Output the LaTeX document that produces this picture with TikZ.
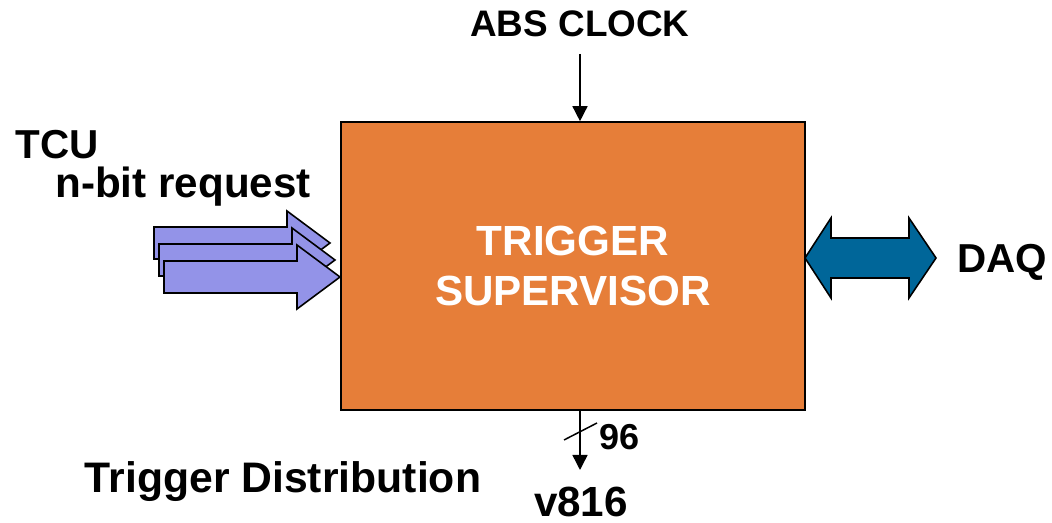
\documentclass[tikz,border=0pt]{standalone}
\usepackage{fontspec}
\setmainfont{Liberation Sans}
\usepackage{tikz}
\usetikzlibrary{arrows.meta, positioning, calc}
\definecolor{tsorange}{RGB}{230,126,57}
\definecolor{daqblue}{RGB}{0,102,153}
\definecolor{reqblue}{RGB}{147,147,232}
\tikzset{
  svbox/.style={rectangle, draw=black, fill=tsorange, line width=0.9pt,
    minimum width=9.28cm, minimum height=5.76cm, align=center,
    text=white, font=\fontsize{24}{29}\selectfont\bfseries},
  lbl/.style={font=\fontsize{24}{28}\selectfont\bfseries, inner sep=0pt},
  smalllbl/.style={font=\fontsize{21}{25}\selectfont\bfseries, inner sep=0pt},
  sigarrow/.style={-{Triangle[length=0.3cm,width=0.3cm]}, line width=0.85pt},
  reqarrow/.style={draw=black, fill=reqblue, line width=0.9pt, line join=miter},
  daqarrow/.style={draw=black, fill=daqblue, line width=0.9pt, line join=miter}
}
\begin{document}
\begin{tikzpicture}
  \useasboundingbox (0,0) rectangle (21.04,10.46);

  % Main block
  \node[svbox] (ts) at (11.46,5.14) {TRIGGER\\SUPERVISOR};

  % Clock input
  \node[smalllbl] (abs) at (11.6,9.98) {ABS CLOCK};
  \coordinate (clk) at (11.6,9.38);
  \draw[sigarrow] (clk) -- (clk |- ts.north);

  % TCU request arrows (back to front)
  \node[lbl, anchor=west] (tcu) at (0.3,7.56) {\fontsize{23}{28}\selectfont TCU};
  \node[lbl, anchor=west] (req) at (1.1,6.72) {n-bit request};
  \draw[reqarrow, shift={(6.60,5.60)}] (0,0) -- (-0.86,0.64) -- (-0.86,0.32) -- (-3.52,0.32)
    -- (-3.52,-0.32) -- (-0.86,-0.32) -- (-0.86,-0.64) -- cycle;
  \draw[reqarrow, shift={(6.70,5.26)}] (0,0) -- (-0.86,0.64) -- (-0.86,0.32) -- (-3.52,0.32)
    -- (-3.52,-0.32) -- (-0.86,-0.32) -- (-0.86,-0.64) -- cycle;
  \draw[reqarrow, shift={(6.80,4.92)}] (0,0) -- (-0.86,0.64) -- (-0.86,0.32) -- (-3.52,0.32)
    -- (-3.52,-0.32) -- (-0.86,-0.32) -- (-0.86,-0.64) -- cycle;

  % DAQ link
  \node[lbl, anchor=west] (daq) at (19.14,5.22) {\fontsize{23}{28}\selectfont DAQ};
  \draw[daqarrow] (16.10,5.30) -- (16.62,6.10) -- (16.62,5.70) -- (18.18,5.70) -- (18.18,6.10)
    -- (18.72,5.30) -- (18.18,4.50) -- (18.18,4.90) -- (16.62,4.90) -- (16.62,4.50) -- cycle;

  % Trigger output bus
  \coordinate (vout) at (11.6,1.06);
  \draw[sigarrow] (vout |- ts.south) -- (vout);
  \coordinate (bus) at (11.61,1.83);
  \draw[line width=0.85pt] ([xshift=-0.33cm,yshift=-0.17cm]bus) -- ([xshift=0.33cm,yshift=0.17cm]bus);
  \node[smalllbl, anchor=west] (width) at (11.98,1.72) {\fontsize{20.5}{24}\selectfont 96};
  \node[lbl] (v816) at (11.62,0.42) {v816};
  \node[lbl] (dist) at (5.66,0.82) {\fontsize{24.3}{28}\selectfont Trigger Distribution};

\end{tikzpicture}
\end{document}
